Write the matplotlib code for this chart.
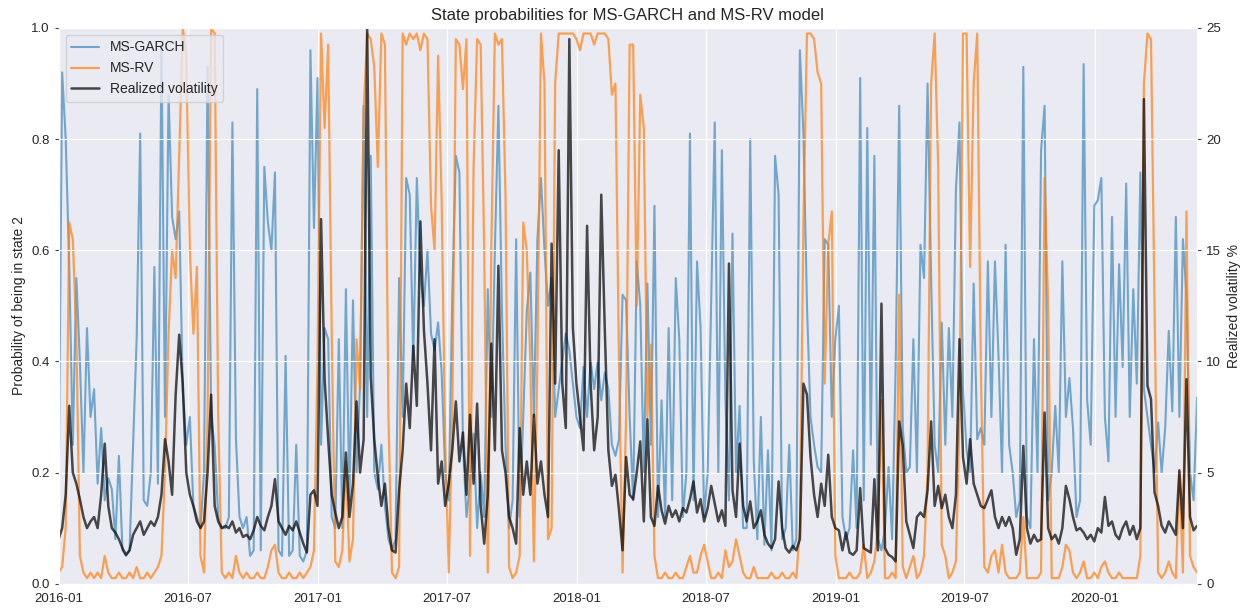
import matplotlib
matplotlib.use('Agg')
import matplotlib.pyplot as plt
import matplotlib.dates as mdates
import pandas as pd
import seaborn as sns

start_date = '2016-01-01'
sample_step = '5D'

ms_garch = [
    0.15, 0.92, 0.80, 0.57, 0.25, 0.55, 0.40, 0.20, 0.46, 0.30,
    0.35, 0.18, 0.28, 0.15, 0.19, 0.17, 0.08, 0.23, 0.06, 0.05,
    0.06, 0.25, 0.44, 0.81, 0.15, 0.14, 0.20, 0.57, 0.18, 0.97,
    0.30, 0.88, 0.66, 0.62, 0.67, 0.35, 0.25, 0.30, 0.14, 0.12,
    0.10, 0.20, 0.93, 0.30, 0.25, 0.12, 0.10, 0.10, 0.12, 0.83,
    0.26, 0.12, 0.10,
    0.12, 0.05, 0.06, 0.89, 0.06, 0.75, 0.65, 0.60, 0.74, 0.06,
    0.05, 0.41, 0.05, 0.06, 0.25, 0.05, 0.04, 0.06, 0.96, 0.64,
    0.91, 0.25, 0.46, 0.44, 0.12, 0.10, 0.44, 0.10, 0.53, 0.15,
    0.51, 0.20, 0.36, 0.86, 0.30, 0.77, 0.20, 0.17, 0.25, 0.14,
    0.08, 0.06, 0.08, 0.55, 0.30, 0.73, 0.70, 0.40, 0.73, 0.55,
    0.50, 0.60, 0.45, 0.42, 0.47,
    0.38, 0.20, 0.15, 0.52, 0.77, 0.74, 0.25, 0.12, 0.18, 0.27,
    0.10, 0.20, 0.12, 0.53, 0.30, 0.60, 0.86, 0.49, 0.25, 0.10,
    0.15, 0.62, 0.12, 0.30, 0.49, 0.56, 0.30, 0.62, 0.73, 0.60,
    0.50, 0.55, 0.30, 0.35, 0.40, 0.45, 0.42, 0.36, 0.30, 0.28,
    0.39, 0.30, 0.40, 0.35, 0.40, 0.33, 0.38, 0.35, 0.25, 0.23,
    0.26, 0.52, 0.51, 0.30,
    0.15, 0.58, 0.50, 0.20, 0.54, 0.25, 0.68, 0.12, 0.33, 0.12,
    0.46, 0.15, 0.55, 0.44, 0.12, 0.20, 0.81, 0.15, 0.58, 0.46,
    0.12, 0.20, 0.51, 0.83, 0.20, 0.78, 0.33, 0.15, 0.63, 0.20,
    0.32, 0.10, 0.10, 0.80, 0.22, 0.08, 0.30, 0.07, 0.24, 0.06,
    0.77, 0.70, 0.08, 0.10, 0.25, 0.06, 0.08, 0.96, 0.81, 0.50,
    0.30, 0.25, 0.21,
    0.20, 0.62, 0.61, 0.30, 0.44, 0.50, 0.12, 0.08, 0.10, 0.24,
    0.10, 0.91, 0.15, 0.82, 0.25, 0.77, 0.08, 0.06, 0.10, 0.21,
    0.08, 0.39, 0.86, 0.28, 0.20, 0.21, 0.44, 0.20, 0.61, 0.55,
    0.90, 0.55, 0.25, 0.20, 0.47, 0.25, 0.46, 0.30, 0.71, 0.83,
    0.35, 0.24, 0.20, 0.54, 0.26, 0.28, 0.25, 0.58, 0.30, 0.58,
    0.41, 0.20, 0.61, 0.25,
    0.20, 0.12, 0.15, 0.93, 0.12, 0.10, 0.44, 0.20, 0.78, 0.86,
    0.15, 0.20, 0.32, 0.20, 0.58, 0.30, 0.37, 0.28, 0.12, 0.15,
    0.935, 0.33, 0.25, 0.68, 0.69, 0.73, 0.30, 0.22, 0.66, 0.30,
    0.575, 0.39, 0.72, 0.30, 0.53, 0.36, 0.74, 0.35, 0.30, 0.25,
    0.20, 0.29, 0.20, 0.28, 0.455, 0.31, 0.66, 0.30, 0.62, 0.52,
    0.20, 0.15, 0.335,
]

ms_rv = [
    0.02, 0.03, 0.10, 0.65, 0.62, 0.45, 0.05, 0.02, 0.01, 0.02,
    0.01, 0.02, 0.01, 0.05, 0.02, 0.01, 0.01, 0.02, 0.01, 0.01,
    0.02, 0.01, 0.03, 0.01, 0.01, 0.02, 0.01, 0.02, 0.03, 0.05,
    0.20, 0.45, 0.60, 0.55, 0.77, 1.00, 0.95, 0.60, 0.45, 0.57,
    0.05, 0.02, 0.30, 1.00, 0.99, 0.30, 0.02, 0.01, 0.02, 0.01,
    0.05, 0.02, 0.01,
    0.02, 0.01, 0.01, 0.02, 0.01, 0.01, 0.03, 0.06, 0.07, 0.02,
    0.01, 0.01, 0.02, 0.01, 0.01, 0.02, 0.01, 0.02, 0.03, 0.06,
    0.40, 0.99, 0.82, 0.97, 0.45, 0.04, 0.03, 0.06, 0.22, 0.04,
    0.08, 0.44, 0.35, 0.85, 0.99, 0.98, 0.93, 0.75, 0.99, 0.97,
    0.30, 0.02, 0.01, 0.03, 0.99, 0.97, 0.99, 0.98, 0.99, 0.96,
    0.99, 0.98, 0.68, 0.60, 0.95,
    0.69, 0.25, 0.02, 0.30, 0.98, 0.97, 0.89, 0.98, 0.05, 0.75,
    0.98, 0.97, 0.60, 0.02, 0.60, 0.99, 0.97, 0.98, 0.70, 0.03,
    0.01, 0.02, 0.05, 0.65, 0.60, 0.40, 0.04, 0.40, 0.99, 0.90,
    0.08, 0.10, 0.90, 0.99, 0.99, 0.99, 0.99, 0.99, 0.98, 0.96,
    0.99, 0.99, 0.99, 0.97, 0.99, 0.99, 0.99, 0.98, 0.88, 0.90,
    0.40, 0.02, 0.30, 0.97,
    0.97, 0.50, 0.88, 0.82, 0.30, 0.43, 0.05, 0.01, 0.01, 0.02,
    0.01, 0.01, 0.02, 0.01, 0.01, 0.03, 0.05, 0.02, 0.02, 0.05,
    0.07, 0.04, 0.01, 0.01, 0.02, 0.01, 0.06, 0.03, 0.04, 0.08,
    0.05, 0.02, 0.01, 0.01, 0.03, 0.01, 0.01, 0.01, 0.01, 0.02,
    0.01, 0.01, 0.02, 0.01, 0.01, 0.02, 0.01, 0.10, 0.65, 0.99,
    0.99, 0.98, 0.92,
    0.90, 0.36, 0.61, 0.67, 0.05, 0.01, 0.01, 0.01, 0.02, 0.01,
    0.01, 0.02, 0.07, 0.01, 0.02, 0.04, 0.10, 0.33, 0.01, 0.01,
    0.02, 0.01, 0.52, 0.03, 0.01, 0.03, 0.05, 0.01, 0.02, 0.05,
    0.20, 0.90, 0.99, 0.75, 0.07, 0.05, 0.01, 0.02, 0.04, 0.30,
    0.99, 0.99, 0.57, 0.90, 0.99, 0.40, 0.03, 0.02, 0.05, 0.06,
    0.02, 0.07, 0.02, 0.01,
    0.01, 0.01, 0.02, 0.12, 0.01, 0.01, 0.01, 0.01, 0.02, 0.73,
    0.50, 0.01, 0.01, 0.01, 0.03, 0.07, 0.06, 0.02, 0.01, 0.02,
    0.04, 0.01, 0.01, 0.02, 0.01, 0.03, 0.04, 0.02, 0.01, 0.01,
    0.02, 0.01, 0.01, 0.01, 0.01, 0.01, 0.05, 0.90, 0.99, 0.98,
    0.50, 0.02, 0.01, 0.02, 0.04, 0.02, 0.01, 0.20, 0.02, 0.67,
    0.05, 0.03, 0.02,
]

realized_vol = [
    2.0, 2.5, 4.0, 8.0, 5.0, 4.5, 3.8, 3.0, 2.5, 2.8,
    3.0, 2.5, 4.0, 6.3, 3.5, 2.5, 2.3, 2.0, 1.6, 1.3,
    1.5, 2.2, 2.5, 2.8, 2.2, 2.5, 2.8, 2.6, 3.0, 4.0,
    6.5, 5.5, 4.0, 8.5, 11.2, 9.0, 5.0, 4.0, 3.5, 2.8,
    2.5, 2.8, 5.0, 8.5, 3.5, 2.8, 2.5, 2.6, 2.5, 2.8,
    2.3, 2.5, 2.1,
    2.2, 2.0, 2.4, 3.0, 2.6, 2.4, 3.0, 3.5, 4.7, 2.8,
    2.5, 2.2, 2.6, 2.4, 2.8, 2.3, 1.8, 1.4, 4.0, 4.2,
    3.5, 16.4, 9.2, 6.5, 4.0, 3.2, 2.5, 3.0, 5.9, 3.0,
    4.5, 8.2, 5.0, 6.5, 25.0, 9.3, 6.5, 4.8, 3.5, 4.5,
    2.5, 1.5, 1.4, 4.2, 6.0, 9.0, 7.0, 10.7, 8.0, 16.3,
    11.4, 9.0, 6.0, 11.0, 4.5,
    5.5, 3.5, 4.5, 6.0, 8.2, 5.5, 6.8, 4.0, 7.6, 4.5,
    8.1, 3.5, 1.8, 4.0, 10.8, 6.0, 14.3, 6.0, 5.0, 3.0,
    2.5, 1.8, 7.0, 4.0, 5.5, 4.0, 7.6, 4.5, 5.5, 4.0,
    3.0, 15.3, 9.0, 19.5, 9.0, 7.0, 24.5, 11.5, 9.0, 7.5,
    6.0, 16.1, 9.0, 6.0, 7.5, 17.5, 11.4, 6.0, 4.4, 4.9,
    3.3, 1.5, 5.7, 4.0,
    3.8, 5.0, 6.4, 2.8, 7.4, 3.0, 2.6, 4.4, 3.3, 2.7,
    3.5, 3.0, 3.3, 2.8, 3.4, 3.2, 3.8, 4.6, 3.2, 3.8,
    2.8, 3.4, 4.4, 3.6, 2.8, 3.3, 2.6, 14.4, 4.2, 3.0,
    6.3, 3.5, 2.8, 3.7, 2.5, 2.8, 3.3, 2.2, 1.8, 1.6,
    2.0, 4.6, 2.5, 1.6, 1.4, 1.7, 1.5, 2.0, 9.0, 8.5,
    5.7, 4.0, 3.0,
    4.5, 3.5, 5.8, 3.0, 2.5, 2.4, 1.5, 2.3, 1.4, 1.3,
    1.5, 4.3, 1.6, 1.5, 1.4, 4.7, 1.5, 12.6, 1.6, 1.3,
    1.2, 1.0, 7.3, 6.2, 2.8, 2.2, 1.6, 3.0, 3.2, 3.0,
    4.2, 7.3, 3.5, 4.4, 3.4, 4.0, 3.0, 2.5, 4.0, 11.0,
    5.7, 4.5, 6.5, 4.5, 4.0, 3.5, 3.4, 3.8, 4.2, 3.0,
    2.5, 3.0, 2.6, 3.0,
    2.5, 1.3, 2.0, 6.2, 2.5, 1.8, 2.2, 1.9, 2.0, 7.7,
    2.5, 2.0, 2.2, 1.8, 2.5, 4.4, 3.8, 3.0, 2.4, 2.5,
    2.3, 2.0, 2.2, 1.9, 2.5, 2.3, 3.9, 2.6, 2.8, 2.2,
    2.0, 2.5, 2.8, 2.2, 2.6, 2.0, 2.5, 21.8, 8.9, 8.3,
    4.1, 3.5, 2.6, 2.3, 2.8, 2.5, 2.2, 5.1, 2.5, 9.2,
    3.0, 2.4, 2.6,
]

title = 'State probabilities for MS-GARCH and MS-RV model'
left_label = 'Probability of being in state 2'
right_label = 'Realized volatility %'

sns.set_style('darkgrid')
plt.rcParams['font.family'] = ['Liberation Sans', 'DejaVu Sans']

dates = pd.date_range(start_date, periods=len(ms_garch), freq=sample_step)

fig, ax1 = plt.subplots(figsize=(12.47, 6.08), dpi=100)
fig.subplots_adjust(left=0.047, right=0.96, top=0.954, bottom=0.04)

l1, = ax1.plot(dates, ms_garch, color='#1f77b4', alpha=0.6, lw=1.5, label='MS-GARCH')
l2, = ax1.plot(dates, ms_rv, color='#ff7f0e', alpha=0.7, lw=1.6, label='MS-RV')
ax1.set_ylim(0, 1)
ax1.set_xlim(dates[0], dates[-1])
ax1.set_ylabel(left_label, fontsize=10)

ax2 = ax1.twinx()
l3, = ax2.plot(dates, realized_vol, color='black', alpha=0.7, lw=1.8, label='Realized volatility')
ax2.set_ylim(0, 25)
ax2.set_ylabel(right_label, fontsize=10)

ax1.xaxis.set_major_locator(mdates.MonthLocator(bymonth=[1, 7]))
ax1.xaxis.set_major_formatter(mdates.DateFormatter('%Y-%m'))

ax1.tick_params(axis='y', left=True, length=3, color='#444444', labelsize=9.5)
ax1.tick_params(axis='x', labelsize=9.5)
ax2.tick_params(axis='y', right=True, length=3, color='#444444', labelsize=9.5)

ax1.set_title(title, fontsize=12)
ax2.legend([l1, l2, l3], [l.get_label() for l in (l1, l2, l3)], loc='upper left', fontsize=10)

fig.savefig('out.png', dpi=100)
